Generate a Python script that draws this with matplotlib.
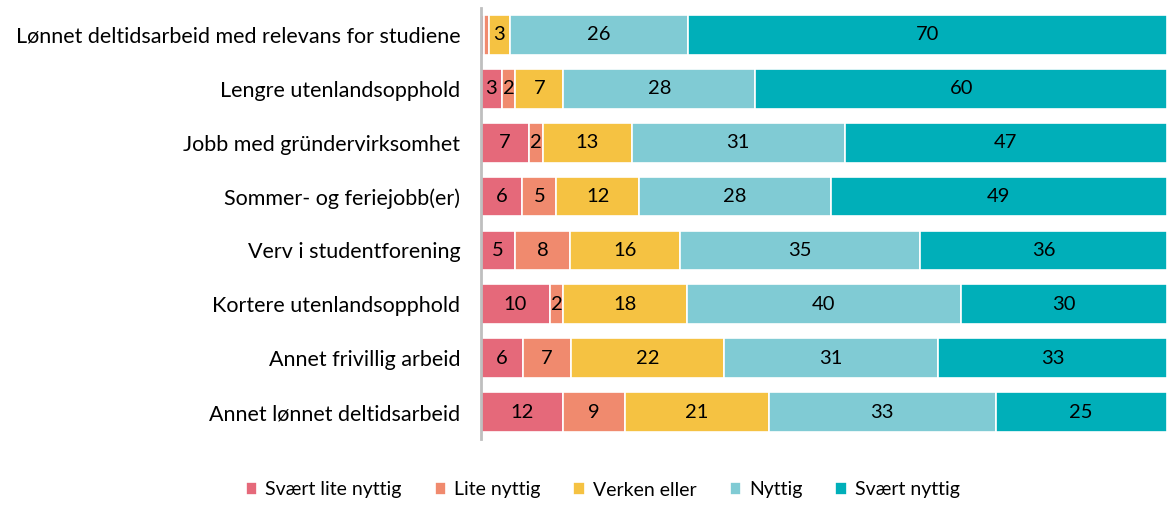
import matplotlib.pyplot as plt
import numpy as np

plt.rcParams['font.family'] = ['Lato', 'DejaVu Sans']

categories = [
    "Lønnet deltidsarbeid med relevans for studiene",
    "Lengre utenlandsopphold",
    "Jobb med gründervirksomhet",
    "Sommer- og feriejobb(er)",
    "Verv i studentforening",
    "Kortere utenlandsopphold",
    "Annet frivillig arbeid",
    "Annet lønnet deltidsarbeid",
]
series = ["Svært lite nyttig", "Lite nyttig", "Verken eller", "Nyttig", "Svært nyttig"]
colors = ["#E5697A", "#F08A6E", "#F5C242", "#80CBD4", "#00AFB9"]

svaert_lite = [0.4, 3, 7, 6, 5, 10, 6, 12]
lite = [0.8, 2, 2, 5, 8, 2, 7, 9]
verken = [3, 7, 13, 12, 16, 18, 22, 21]
nyttig = [26, 28, 31, 28, 35, 40, 31, 33]
svaert = [70, 60, 47, 49, 36, 30, 33, 25]

data = np.array([svaert_lite, lite, verken, nyttig, svaert], dtype=float)
pct = data / data.sum(axis=0) * 100

fig = plt.figure(figsize=(11.68, 5.05), dpi=100)
ax = fig.add_axes([481 / 1168, 1 - 439 / 505, 686 / 1168, 431 / 505])

y = np.arange(len(categories))
left = np.zeros(len(categories))
for i, name in enumerate(series):
    ax.barh(y, pct[i], left=left, height=0.74, color=colors[i],
            edgecolor='white', linewidth=1.2, label=name)
    for j in range(len(categories)):
        if data[i, j] >= 1.5:
            ax.text(left[j] + pct[i, j] / 2, y[j], "%d" % round(data[i, j]),
                    ha='center', va='center', fontsize=14.5, color='black')
    left += pct[i]

ax.set_xlim(0, 100)
ax.set_ylim(len(categories) - 0.5, -0.5)
ax.set_yticks(y)
ax.set_yticklabels(categories, fontsize=15.5)
ax.tick_params(axis='y', length=0, pad=15)
ax.set_xticks([])
for s in ['top', 'right', 'bottom']:
    ax.spines[s].set_visible(False)
ax.spines['left'].set_color('#BFBFBF')
ax.spines['left'].set_linewidth(2)

fig.legend(loc='center', bbox_to_anchor=(0.516, 1 - 490 / 505), ncol=5,
           frameon=False, fontsize=14, handlelength=0.6, handleheight=0.6,
           handletextpad=0.4, columnspacing=1.7)

fig.savefig("out.png", dpi=100)
